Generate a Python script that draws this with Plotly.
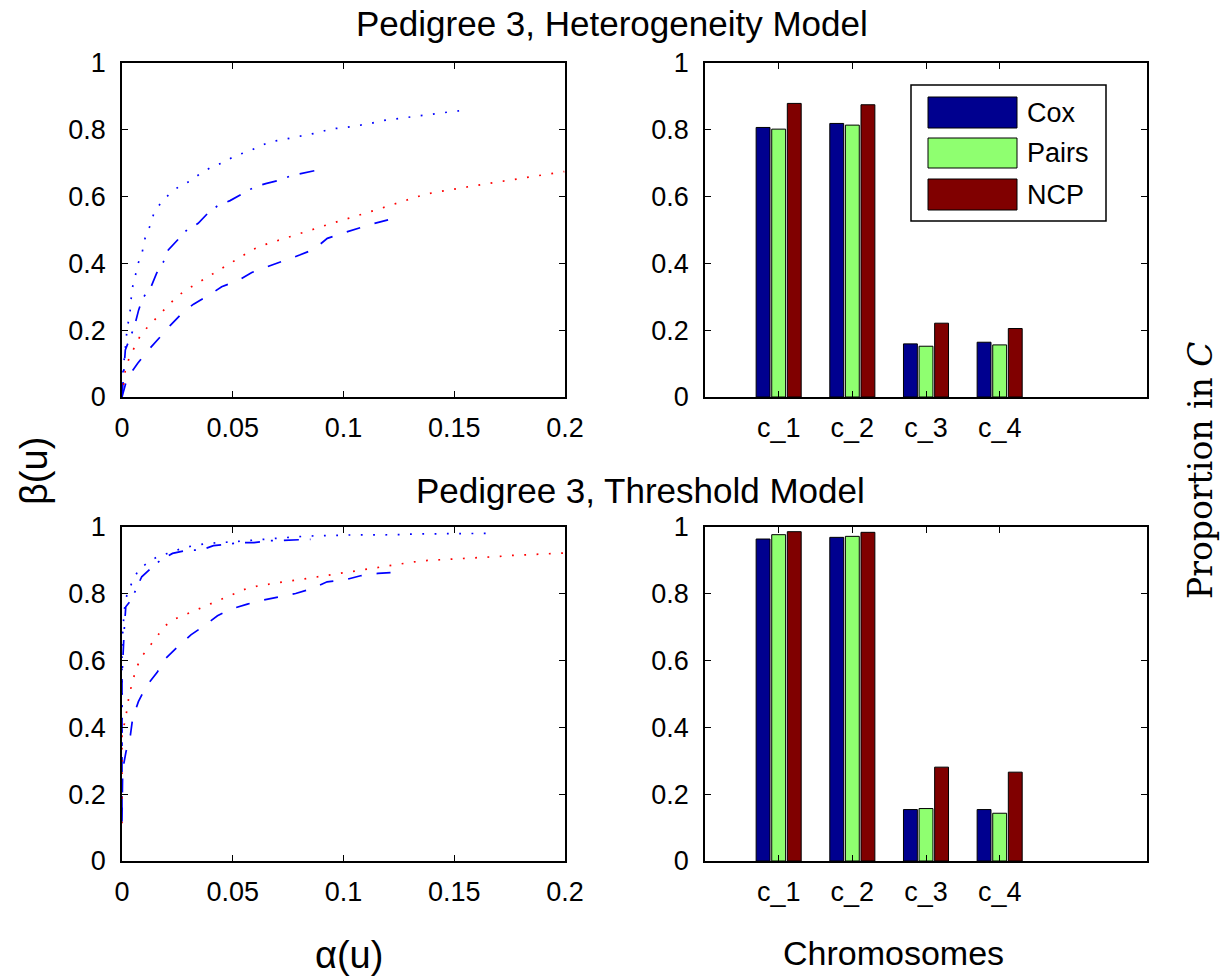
import plotly.graph_objects as go

W, H = 1230, 978

# ---------------- data ----------------
# Top-left (Heterogeneity model) ROC-like curves
het_dot_blue_x = [0, 0.0005, 0.0018, 0.0023, 0.0035, 0.0045, 0.0059, 0.0073, 0.0092, 0.0104, 0.0126, 0.0143,
                  0.0176, 0.0216, 0.0261, 0.0312, 0.0359, 0.0410, 0.0464, 0.0512, 0.0566, 0.0616, 0.0667, 0.0721,
                  0.0778, 0.0835, 0.0890, 0.0943, 0.1000, 0.1059, 0.1116, 0.1170, 0.1227, 0.1284, 0.1341, 0.1396,
                  0.1452, 0.1508, 0.1525]
het_dot_blue_y = [0, 0.08, 0.166, 0.206, 0.245, 0.322, 0.360, 0.400, 0.436, 0.475, 0.512, 0.548, 0.582, 0.609,
                  0.632, 0.648, 0.672, 0.690, 0.704, 0.723, 0.734, 0.750, 0.764, 0.770, 0.778, 0.786, 0.792, 0.803,
                  0.806, 0.812, 0.818, 0.827, 0.832, 0.836, 0.842, 0.848, 0.851, 0.856, 0.857]

het_dashdot_x = [0, 0.0015, 0.0056, 0.0075, 0.0093, 0.0131, 0.0156, 0.0186, 0.0209, 0.0255, 0.0294, 0.0344,
                 0.0390, 0.0435, 0.0488, 0.0548, 0.0596, 0.0649, 0.0716, 0.0764, 0.0821, 0.0886]
het_dashdot_y = [0, 0.141, 0.211, 0.260, 0.295, 0.330, 0.370, 0.403, 0.440, 0.473, 0.501, 0.520, 0.552, 0.574,
                 0.588, 0.610, 0.628, 0.639, 0.650, 0.663, 0.670, 0.680]

het_dot_red_x = [0, 0.0015, 0.0033, 0.0059, 0.0086, 0.0128, 0.0168, 0.0207, 0.0248, 0.0296, 0.0345, 0.0395,
                 0.0446, 0.0494, 0.0545, 0.0595, 0.0649, 0.0704, 0.0760, 0.0814, 0.0868, 0.0923, 0.0981, 0.1035,
                 0.1092, 0.1146, 0.1201, 0.1257, 0.1311, 0.1368, 0.1423, 0.1481, 0.1538, 0.1595, 0.1652, 0.1709,
                 0.1766, 0.1823, 0.1880, 0.1937, 0.1997]
het_dot_red_y = [0, 0.081, 0.118, 0.153, 0.188, 0.218, 0.245, 0.274, 0.301, 0.323, 0.343, 0.363, 0.383, 0.403,
                 0.422, 0.443, 0.457, 0.468, 0.480, 0.492, 0.503, 0.515, 0.526, 0.538, 0.549, 0.560, 0.572, 0.584,
                 0.596, 0.607, 0.614, 0.621, 0.627, 0.633, 0.639, 0.645, 0.652, 0.657, 0.663, 0.669, 0.675]

het_dash_x = [0, 0.0023, 0.0071, 0.0113, 0.0171, 0.0216, 0.0273, 0.0323, 0.0393, 0.0450, 0.0528, 0.0586,
              0.0656, 0.0724, 0.0802, 0.0866, 0.0927, 0.0994, 0.1064, 0.1134, 0.1212, 0.1260]
het_dash_y = [0, 0.056, 0.101, 0.136, 0.179, 0.213, 0.252, 0.278, 0.305, 0.330, 0.350, 0.373, 0.390, 0.406,
              0.425, 0.442, 0.475, 0.490, 0.505, 0.519, 0.532, 0.548]

# Bottom-left (Threshold model)
thr_dot_blue_x = [0, 0, 0.0010, 0.00225, 0.0048, 0.0074, 0.0119, 0.0168, 0.0224, 0.0276, 0.0332, 0.0389,
                  0.0506, 0.0562, 0.0620, 0.0677, 0.0734, 0.0791, 0.0851, 0.0908, 0.0965, 0.1023, 0.1138, 0.1197,
                  0.1255, 0.1312, 0.1369, 0.1427, 0.1485, 0.1542, 0.1601, 0.1659]
thr_dot_blue_y = [0.35, 0.65, 0.75, 0.799, 0.838, 0.871, 0.895, 0.914, 0.924, 0.938, 0.945, 0.951, 0.956,
                  0.959, 0.963, 0.966, 0.969, 0.971, 0.973, 0.973, 0.975, 0.976, 0.976, 0.976, 0.977, 0.979,
                  0.979, 0.979, 0.980, 0.980, 0.980, 0.981]

thr_dashdot_x = [0, 0, 0.0010, 0.0017, 0.0041, 0.0089, 0.0138, 0.0179, 0.0228, 0.0299, 0.0356, 0.0413,
                 0.0483, 0.0536, 0.0596, 0.0668, 0.0724, 0.0784, 0.0851]
thr_dashdot_y = [0.15, 0.55, 0.692, 0.761, 0.781, 0.851, 0.881, 0.903, 0.921, 0.931, 0.931, 0.944, 0.949,
                 0.953, 0.953, 0.959, 0.960, 0.961, 0.963]

thr_dot_red_x = [0, 0, 0.0015, 0.0023, 0.0033, 0.0048, 0.0063, 0.0089, 0.0123, 0.0158, 0.0194, 0.0240, 0.0293,
                 0.0347, 0.0401, 0.0455, 0.0509, 0.0560, 0.0616, 0.0674, 0.0731, 0.0788, 0.0845, 0.0902, 0.0958,
                 0.1017, 0.1073, 0.1131, 0.1188, 0.1246, 0.1302, 0.1360, 0.1418, 0.1474, 0.1533, 0.1590, 0.1647,
                 0.1706, 0.1763, 0.1821, 0.1878, 0.1937, 0.1997]
thr_dot_red_y = [0.113, 0.382, 0.422, 0.460, 0.500, 0.537, 0.575, 0.612, 0.642, 0.672, 0.704, 0.725, 0.740,
                 0.755, 0.770, 0.785, 0.801, 0.815, 0.824, 0.831, 0.836, 0.841, 0.847, 0.853, 0.859, 0.865, 0.871,
                 0.877, 0.883, 0.889, 0.894, 0.899, 0.901, 0.903, 0.905, 0.907, 0.909, 0.912, 0.915, 0.917, 0.918,
                 0.919, 0.922]

thr_dash_x = [0, 0.0003, 0.0018, 0.0038, 0.0048, 0.0074, 0.0111, 0.0158, 0.0198, 0.0255, 0.0311, 0.0371,
              0.0431, 0.0491, 0.0566, 0.0634, 0.0713, 0.0784, 0.0859, 0.0926, 0.1001, 0.1077, 0.1155, 0.1227]
thr_dash_y = [0.118, 0.272, 0.327, 0.377, 0.427, 0.477, 0.525, 0.564, 0.607, 0.644, 0.677, 0.704, 0.734,
              0.754, 0.769, 0.781, 0.791, 0.801, 0.816, 0.836, 0.841, 0.854, 0.861, 0.864]

# Bar charts
chrom_pos = [1, 2, 3, 4]
chrom_labels = ["c_1", "c_2", "c_3", "c_4"]
methods = ["Cox", "Pairs", "NCP"]
method_colors = ["#00008F", "#8FFF70", "#800000"]
het_cox = [0.807, 0.819, 0.159, 0.164]
het_pairs = [0.802, 0.814, 0.152, 0.156]
het_ncp = [0.879, 0.875, 0.221, 0.205]
thr_cox = [0.964, 0.969, 0.154, 0.154]
thr_pairs = [0.977, 0.972, 0.157, 0.143]
thr_ncp = [0.986, 0.984, 0.281, 0.266]

# ---------------- figure ----------------
fig = go.Figure()

BLUE, RED = "#0000FF", "#FF0000"
DOT = "1.8px,10.5px"
DASH = "14px,15px"
DASHDOT = "15px,11px,2px,11px"


def add_line(x, y, color, dash, xa, ya):
    fig.add_trace(go.Scatter(x=x, y=y, mode="lines", xaxis=xa, yaxis=ya, showlegend=False,
                             line=dict(color=color, width=1.7, dash=dash), hoverinfo="skip"))


add_line(het_dot_blue_x, het_dot_blue_y, BLUE, DOT, "x", "y")
add_line(het_dashdot_x, het_dashdot_y, BLUE, DASHDOT, "x", "y")
add_line(het_dot_red_x, het_dot_red_y, RED, DOT, "x", "y")
add_line(het_dash_x, het_dash_y, BLUE, DASH, "x", "y")

add_line(thr_dot_blue_x, thr_dot_blue_y, BLUE, DOT, "x3", "y3")
add_line(thr_dashdot_x, thr_dashdot_y, BLUE, DASHDOT, "x3", "y3")
add_line(thr_dot_red_x, thr_dot_red_y, RED, DOT, "x3", "y3")
add_line(thr_dash_x, thr_dash_y, BLUE, DASH, "x3", "y3")

for vals, name, col in zip([het_cox, het_pairs, het_ncp], methods, method_colors):
    fig.add_trace(go.Bar(x=chrom_pos, y=vals, name=name, marker=dict(color=col, line=dict(color="black", width=1)),
                         xaxis="x2", yaxis="y2", showlegend=False))
for vals, name, col in zip([thr_cox, thr_pairs, thr_ncp], methods, method_colors):
    fig.add_trace(go.Bar(x=chrom_pos, y=vals, name=name, marker=dict(color=col, line=dict(color="black", width=1)),
                         xaxis="x4", yaxis="y4", showlegend=False))

FONT = "Liberation Sans, Arial, sans-serif"
TICKFONT = dict(family=FONT, size=27, color="black")


def px_x(p):
    return p / W


def px_y(p):
    return 1 - p / H


L_DOM = [px_x(122), px_x(565)]
R_DOM = [px_x(705), px_x(1147)]
T_DOM = [px_y(397), px_y(63)]
B_DOM = [px_y(861), px_y(527)]

axis_common = dict(showline=True, linecolor="black", linewidth=1.5, mirror="ticks", ticks="inside",
                   ticklen=6, tickwidth=1.2, tickcolor="black", showgrid=False, zeroline=False,
                   tickfont=TICKFONT, fixedrange=True, automargin=False)

line_x = dict(range=[0, 0.2], tickvals=[0, 0.05, 0.1, 0.15, 0.2], ticktext=["0", "0.05", "0.1", "0.15", "0.2"],
              ticklabelstandoff=6, **axis_common)
bar_x = dict(range=[0, 6], tickvals=chrom_pos, ticktext=chrom_labels, ticklabelstandoff=6, **axis_common)
ycommon = dict(range=[0, 1], tickvals=[0, 0.2, 0.4, 0.6, 0.8, 1], ticktext=["0", "0.2", "0.4", "0.6", "0.8", "1"],
               ticklabelstandoff=9, **axis_common)

fig.update_layout(
    template="none",
    width=W, height=H, margin=dict(l=0, r=0, t=0, b=0, autoexpand=False),
    paper_bgcolor="white", plot_bgcolor="white",
    barmode="group", bargap=0.365, bargroupgap=0.11,
    showlegend=False,
    xaxis=dict(domain=L_DOM, anchor="y", **line_x),
    yaxis=dict(domain=T_DOM, anchor="x", **ycommon),
    xaxis2=dict(domain=R_DOM, anchor="y2", **bar_x),
    yaxis2=dict(domain=T_DOM, anchor="x2", **ycommon),
    xaxis3=dict(domain=L_DOM, anchor="y3", **line_x),
    yaxis3=dict(domain=B_DOM, anchor="x3", **ycommon),
    xaxis4=dict(domain=R_DOM, anchor="y4", **bar_x),
    yaxis4=dict(domain=B_DOM, anchor="x4", **ycommon),
)

anns = []


def ann(text, x, y, size, rot=0, family=FONT, xanchor="center"):
    anns.append(dict(text=text, x=px_x(x), y=px_y(y), xref="paper", yref="paper", showarrow=False,
                     xanchor=xanchor, yanchor="middle", textangle=rot,
                     font=dict(family=family, size=size, color="black")))


ann("Pedigree 3, Heterogeneity Model", 612, 24, 35)
ann("Pedigree 3, Threshold Model", 640, 491, 35)
ann("β(u)", 34, 471, 38, rot=-90)
ann("α(u)", 349, 955, 38)
ann("Chromosomes", 893, 953, 34)
ann("Proportion in <i>C</i>", 1201, 470, 33, rot=-90, family="DejaVu Serif, Liberation Serif, serif")

# Legend (drawn in the top-right axes)
shapes = [dict(type="rect", xref="paper", yref="paper", x0=px_x(911), x1=px_x(1106), y0=px_y(221), y1=px_y(85),
               line=dict(color="black", width=1.5), fillcolor="white", layer="above")]
rows = [(97, 128), (138, 168), (179, 210)]
for (t, b), name, col in zip(rows, methods, method_colors):
    shapes.append(dict(type="rect", xref="paper", yref="paper", x0=px_x(928), x1=px_x(1017), y0=px_y(b), y1=px_y(t),
                       line=dict(color="black", width=1), fillcolor=col, layer="above"))
    ann(name, 1025, (t + b) / 2, 27, xanchor="left")

fig.update_layout(annotations=anns, shapes=shapes)

fig.write_html("out.html")
